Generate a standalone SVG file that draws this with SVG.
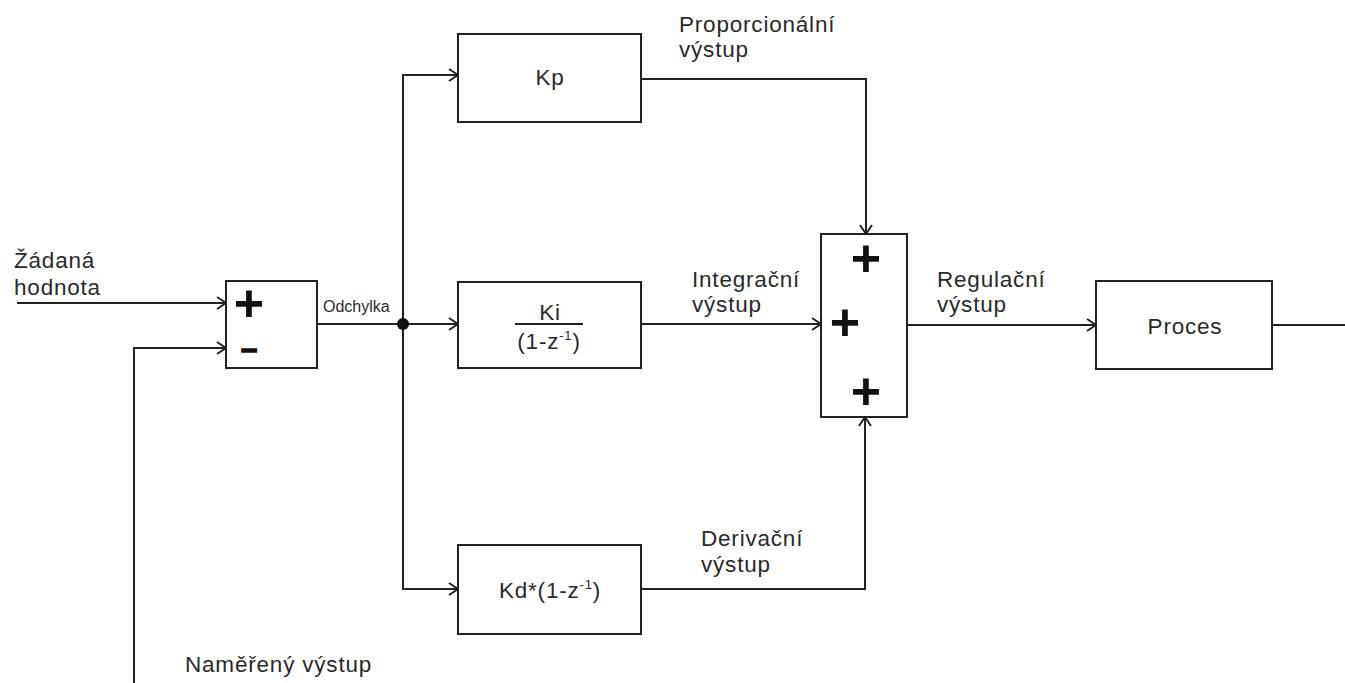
<svg xmlns="http://www.w3.org/2000/svg" width="1345" height="683" viewBox="0 0 1345 683">
<style>
.box{fill:#fff;stroke:#222;stroke-width:2}
.wire{fill:none;stroke:#222;stroke-width:2}
.lbl{font-family:"Liberation Sans",Arial,sans-serif;font-size:22.5px;fill:#2a2a2a;letter-spacing:0.8px}
.mid{text-anchor:middle}
.sm{font-family:"Liberation Sans",Arial,sans-serif;font-size:16px;fill:#2a2a2a}
.sup{font-size:13px}
.sign{font-family:"Liberation Sans",Arial,sans-serif;font-size:52px;font-weight:bold;fill:#111;text-anchor:middle}
.minus{font-family:"Liberation Sans",Arial,sans-serif;font-size:29px;font-weight:bold;fill:#111;stroke:#111;stroke-width:1.6;text-anchor:middle}
</style>
<defs>
<marker id="arr" markerUnits="userSpaceOnUse" markerWidth="14" markerHeight="16" refX="10" refY="7" orient="auto">
<path d="M1,1 L10,7 L1,13" fill="none" stroke="#222" stroke-width="2"/>
</marker>
</defs>
<rect width="1345" height="683" fill="#fff"/>
<g id="connectors">
<path class="wire" d="M17,303 H226" marker-end="url(#arr)"/>
<path class="wire" d="M134,683 V348 H226" marker-end="url(#arr)"/>
<path class="wire" d="M317,324 H458" marker-end="url(#arr)"/>
<path class="wire" d="M403,324 V75 H458" marker-end="url(#arr)"/>
<path class="wire" d="M403,324 V589 H458" marker-end="url(#arr)"/>
<path class="wire" d="M641,79 H866 V234" marker-end="url(#arr)"/>
<path class="wire" d="M641,324 H821" marker-end="url(#arr)"/>
<path class="wire" d="M641,589 H865 V417" marker-end="url(#arr)"/>
<path class="wire" d="M907,325 H1096" marker-end="url(#arr)"/>
<path class="wire" d="M1272,325 H1345"/>
<circle cx="403" cy="324" r="6" fill="#111"/>
</g>
<g id="labels">
<text class="lbl" x="14" y="268">Žádaná</text>
<text class="lbl" x="14" y="295">hodnota</text>
<text class="sm" x="323" y="312">Odchylka</text>
<text class="lbl" x="679" y="32">Proporcionální</text>
<text class="lbl" x="679" y="57">výstup</text>
<text class="lbl" x="692" y="287">Integrační</text>
<text class="lbl" x="692" y="312">výstup</text>
<text class="lbl" x="937" y="287">Regulační</text>
<text class="lbl" x="937" y="312">výstup</text>
<text class="lbl" x="701" y="546">Derivační</text>
<text class="lbl" x="701" y="572">výstup</text>
<text class="lbl" x="185" y="672">Naměřený výstup</text>
</g>
<g id="sum1">
<rect class="box" x="226" y="281" width="91" height="87"/>
<text class="sign" x="249" y="321">+</text>
<text class="minus" x="249" y="359">–</text>
</g>
<g id="kp">
<rect class="box" x="458" y="34" width="183" height="88"/>
<text class="lbl mid" x="550" y="85">Kp</text>
</g>
<g id="ki">
<rect class="box" x="458" y="282" width="183" height="86"/>
<text class="lbl mid" x="550" y="320">Ki</text>
<line x1="515" y1="324" x2="583" y2="324" stroke="#222" stroke-width="2"/>
<text class="lbl mid" x="549" y="349">(1-z<tspan class="sup" dy="-9">-1</tspan><tspan dy="9">)</tspan></text>
</g>
<g id="kd">
<rect class="box" x="458" y="545" width="183" height="89"/>
<text class="lbl mid" x="550" y="598">Kd*(1-z<tspan class="sup" dy="-9">-1</tspan><tspan dy="9">)</tspan></text>
</g>
<g id="sum2">
<rect class="box" x="821" y="234" width="86" height="183"/>
<text class="sign" x="866" y="276">+</text>
<text class="sign" x="845" y="340">+</text>
<text class="sign" x="866" y="409">+</text>
</g>
<g id="proces">
<rect class="box" x="1096" y="281" width="176" height="88"/>
<text class="lbl mid" x="1185" y="334">Proces</text>
</g>
</svg>
